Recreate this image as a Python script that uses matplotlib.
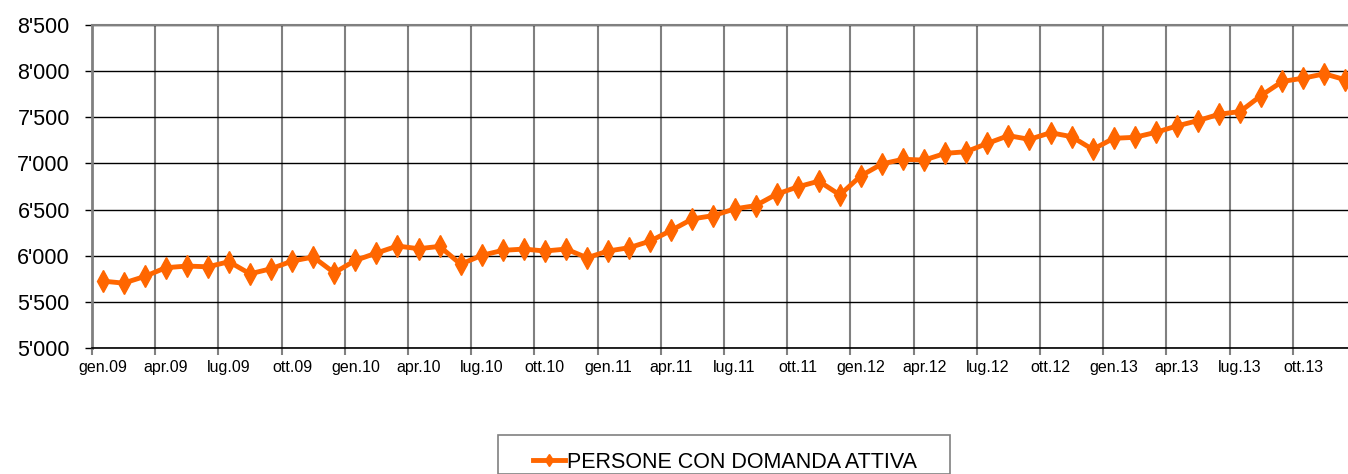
import matplotlib
matplotlib.use("Agg")
import matplotlib.pyplot as plt
from matplotlib.patches import Rectangle
from matplotlib.ticker import FixedLocator, FuncFormatter, NullFormatter

plt.rcParams["font.family"] = ["Liberation Sans", "DejaVu Sans"]

# monthly values gen.09 .. dic.13
mesi = ["gen", "feb", "mar", "apr", "mag", "giu", "lug", "ago", "set", "ott", "nov", "dic"]
anni = ["09", "10", "11", "12", "13"]
labels = [f"{m}.{a}" for a in anni for m in mesi]
persone = [
    5725, 5703, 5775, 5870, 5888, 5880, 5935, 5804, 5859, 5942, 5986, 5815,
    5949, 6029, 6105, 6076, 6101, 5908, 6004, 6058, 6072, 6051, 6072, 5978,
    6051, 6087, 6159, 6275, 6399, 6435, 6507, 6543, 6667, 6746, 6808, 6659,
    6866, 6995, 7045, 7036, 7109, 7127, 7217, 7301, 7261, 7333, 7290, 7152,
    7272, 7283, 7337, 7406, 7464, 7533, 7562, 7736, 7888, 7924, 7971, 7906,
]
serie_nome = "PERSONE CON DOMANDA ATTIVA"

W, H = 1348, 474
fig = plt.figure(figsize=(W / 100, H / 100), dpi=100, facecolor="white")
# plot area runs a bit past the right edge, as in the original
ax = fig.add_axes((92 / W, (H - 348) / H, 1264 / W, 323 / H))

n = len(persone)
x = list(range(n))
ax.plot(x, persone, color="#ff6600", lw=3.5, marker="d", ms=11,
        mec="#ff6600", mfc="#ff6600", label=serie_nome, zorder=3)

ax.set_xlim(-0.5, n - 0.5)
ax.set_ylim(5000, 8500)

# y axis
ax.set_yticks(range(5000, 8501, 500))
ax.yaxis.set_major_formatter(FuncFormatter(lambda v, p: f"{int(v) // 1000}'{int(v) % 1000:03d}"))
ax.tick_params(axis="y", length=5, width=1, color="#000000", labelsize=15.5, pad=11)
ax.yaxis.grid(True, color="black", lw=1)

# x axis: grid/ticks at quarter boundaries, labels centred on the month
ax.xaxis.set_major_locator(FixedLocator([i - 0.5 for i in range(0, n + 1, 3)]))
ax.xaxis.set_major_formatter(NullFormatter())
ax.tick_params(axis="x", which="major", length=5, width=1.5, color="#808080")
trans = ax.get_xaxis_transform()
for i in range(0, n, 3):
    ax.text(i, -24 / 323, labels[i], transform=trans, ha="center", va="baseline",
            fontsize=11.5, clip_on=False)
ax.xaxis.grid(True, which="major", color="#808080", lw=1.5)
ax.set_axisbelow(True)

for s in ["top", "right"]:
    ax.spines[s].set_color("#808080")
    ax.spines[s].set_linewidth(1.5)
ax.spines["left"].set_color("#808080")
ax.spines["left"].set_linewidth(2)
ax.spines["bottom"].set_color("#000000")
ax.spines["bottom"].set_linewidth(1.2)

# legend box (bottom cut by the image edge)
fig.patches.append(Rectangle((498 / W, 0), 452 / W, (H - 444) / H + 0.02,
                             transform=fig.transFigure, facecolor="white",
                             edgecolor="#808080", lw=1.2))
fig.legend(loc="center left", bbox_to_anchor=(524 / W, 1 - 462 / H), frameon=False,
           fontsize=15.5, handlelength=1.5, handletextpad=0.1, borderaxespad=0,
           markerscale=0.55)

fig.savefig("out.png", dpi=100, facecolor="white")
